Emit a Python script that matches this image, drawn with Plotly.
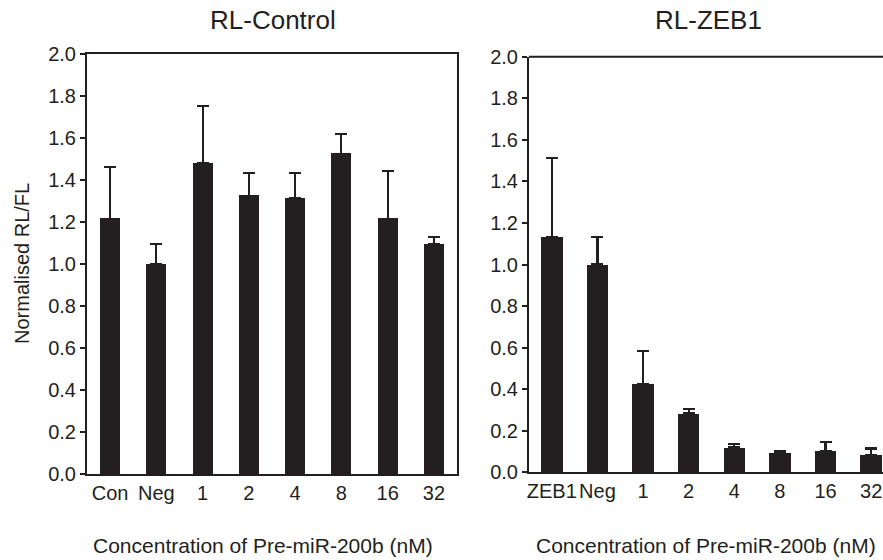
import plotly.graph_objects as go

categories_left = ["Con", "Neg", "1", "2", "4", "8", "16", "32"]
values_left = [1.217, 1.0, 1.482, 1.327, 1.314, 1.527, 1.217, 1.095]
err_left = [0.246, 0.098, 0.270, 0.108, 0.121, 0.092, 0.226, 0.034]

categories_right = ["ZEB1", "Neg", "1", "2", "4", "8", "16", "32"]
values_right = [1.134, 1.001, 0.426, 0.284, 0.120, 0.094, 0.104, 0.085]
err_right = [0.380, 0.130, 0.156, 0.021, 0.015, 0.006, 0.040, 0.030]

yticks = [0.0, 0.2, 0.4, 0.6, 0.8, 1.0, 1.2, 1.4, 1.6, 1.8, 2.0]

INK = "#231f20"
FONT = "Liberation Sans, Arial, sans-serif"
W, H = 883, 560

fig = go.Figure()
xl = list(range(len(categories_left)))
xr = list(range(len(categories_right)))

fig.add_trace(go.Bar(
    x=xl, y=values_left, width=0.43, marker=dict(color=INK, line=dict(width=0)),
    error_y=dict(type="data", array=err_left, arrayminus=[0]*len(err_left), symmetric=False,
                 color=INK, thickness=2.2, width=6),
    xaxis="x", yaxis="y", showlegend=False, cliponaxis=True))
fig.add_trace(go.Bar(
    x=xr, y=values_right, width=0.47, marker=dict(color=INK, line=dict(width=0)),
    error_y=dict(type="data", array=err_right, arrayminus=[0]*len(err_right), symmetric=False,
                 color=INK, thickness=2.2, width=6),
    xaxis="x2", yaxis="y2", showlegend=False, cliponaxis=True))

axis_common = dict(showgrid=False, zeroline=False, showline=True, linecolor=INK, linewidth=2,
                   automargin=False, tickfont=dict(family=FONT, size=20, color=INK))

fig.update_layout(
    template="none",
    width=W, height=H, margin=dict(l=0, r=0, t=0, b=0, autoexpand=False),
    plot_bgcolor="white", paper_bgcolor="white", bargap=0,
    font=dict(family=FONT, color=INK),
    xaxis=dict(domain=[87/W, 457/W], range=[-0.5, 7.5], tickmode="array", tickvals=xl,
               ticktext=categories_left, ticks="", mirror=True, anchor="y", **axis_common),
    yaxis=dict(domain=[(H-474.3)/H, (H-54.3)/H], range=[0, 2.0], tickmode="array", tickvals=yticks,
               ticktext=[f"{v:.1f}" for v in yticks], ticks="outside", ticklen=5, tickwidth=2,
               tickcolor=INK, mirror=True, anchor="x", **axis_common),
    xaxis2=dict(domain=[529/W, 1.0], range=[-0.5, 7.26], tickmode="array", tickvals=xr,
                ticktext=categories_right, ticks="", anchor="y2", **axis_common),
    yaxis2=dict(domain=[(H-472.3)/H, (H-56.7)/H], range=[0, 2.0], tickmode="array", tickvals=yticks,
                ticktext=[f"{v:.1f}" for v in yticks], ticks="outside", ticklen=5, tickwidth=2,
                tickcolor=INK, anchor="x2", **axis_common),
)

# top frame line of right panel
fig.add_shape(type="line", xref="x2 domain", yref="y2 domain", x0=0, x1=1, y0=1, y1=1,
              line=dict(color=INK, width=2))

def label(text, xpx, ypx, size, angle=0):
    fig.add_annotation(text=text, x=xpx/W, y=1-ypx/H, xref="paper", yref="paper",
                       xanchor="center", yanchor="middle", showarrow=False, textangle=angle,
                       font=dict(family=FONT, size=size, color=INK))

label("RL-Control", 272.5, 20, 26)
label("RL-ZEB1", 708, 20, 26)
label("Concentration of Pre-miR-200b (nM)", (90+436)/2, 545, 21)
label("Concentration of Pre-miR-200b (nM)", (533+878)/2, 545, 21)
label("Normalised RL/FL", 22, 264, 20, -90)

fig.write_html("out.html", config={"displayModeBar": False},
               post_script="document.body.style.margin='0px';")
